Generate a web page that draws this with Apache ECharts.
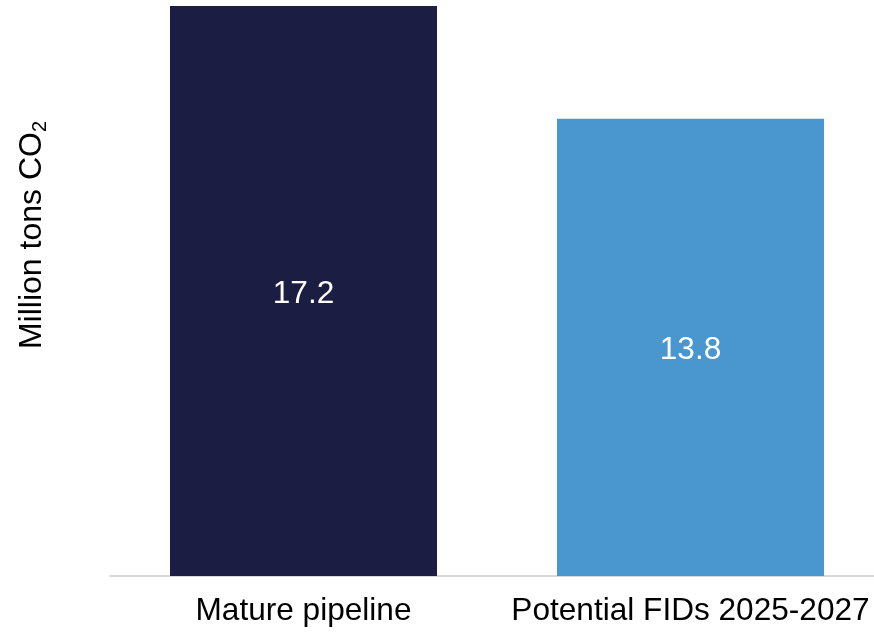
<!DOCTYPE html>
<html>
<head>
<meta charset="utf-8">
<script src="https://cdn.jsdelivr.net/npm/echarts@6/dist/echarts.min.js"></script>
<style>
  html, body { margin: 0; padding: 0; background: #ffffff; }
  #chart { width: 874px; height: 632px; }
</style>
</head>
<body>
<div id="chart"></div>
<script>
// Capture pipeline volumes
const categories = ['Mature pipeline', 'Potential FIDs 2025-2027'];
const volumes = [17.2, 13.8];
const barColors = ['#1B1D42', '#4A96CE'];

const chart = echarts.init(document.getElementById('chart'), null, { renderer: 'canvas' });

const FONT = '"Liberation Sans", Arial, sans-serif';

chart.setOption({
  backgroundColor: '#ffffff',
  animation: false,
  grid: { left: 110, right: -10, top: 6, bottom: 56, containLabel: false, outerBoundsMode: 'none' },
  xAxis: {
    type: 'category',
    data: categories,
    axisLine: { show: true, lineStyle: { color: '#D9D9D9', width: 2 } },
    axisTick: { show: false },
    axisLabel: {
      color: '#000000',
      fontFamily: FONT,
      fontSize: 31.6,
      margin: 19,
      interval: 0
    }
  },
  yAxis: {
    type: 'value',
    min: 0,
    max: 17.2,
    axisLine: { show: false },
    axisTick: { show: false },
    axisLabel: { show: false },
    splitLine: { show: false },
    name: '{a|Million tons CO}{s|2}',
    nameLocation: 'middle',
    nameRotate: 90,
    nameGap: 60,
    nameTextStyle: {
      padding: [0, 0, 0, 112],
      rich: {
        a: { fontFamily: FONT, fontSize: 32, color: '#000000' },
        s: { fontFamily: FONT, fontSize: 20, color: '#000000', padding: [16, 0, 0, 0] }
      }
    }
  },
  series: [{
    type: 'bar',
    barCategoryGap: '31%',
    data: volumes.map((v, i) => ({ value: v, itemStyle: { color: barColors[i] } })),
    label: {
      show: true,
      position: 'inside',
      offset: [0, 3],
      color: '#ffffff',
      fontFamily: FONT,
      fontSize: 31.6,
      formatter: p => p.value.toFixed(1)
    }
  }]
});
</script>
</body>
</html>
